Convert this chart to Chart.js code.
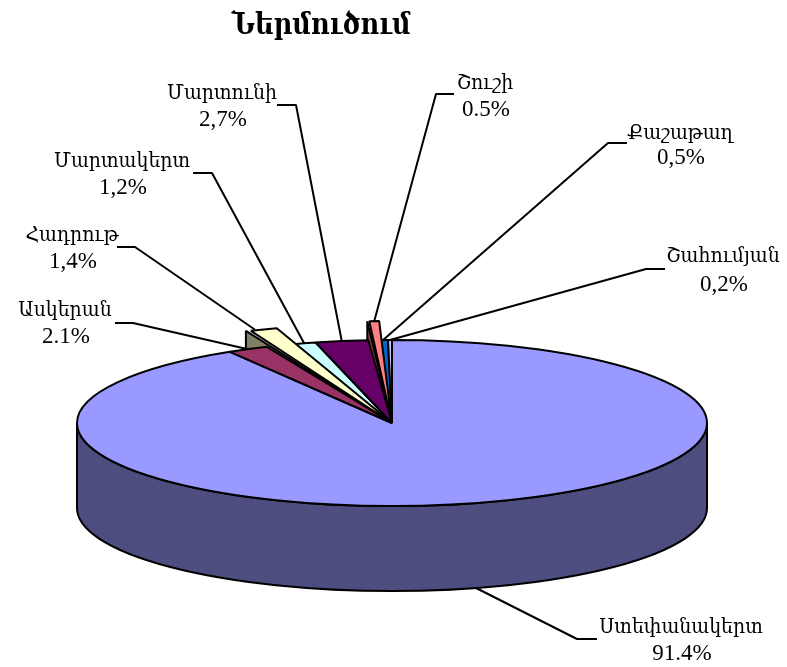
<!DOCTYPE html>
<html>
<head>
<meta charset="utf-8">
<style>
  html, body { margin: 0; padding: 0; background: #fff; }
  canvas { display: block; }
</style>
<script src="https://cdn.jsdelivr.net/npm/chart.js@4"></script>
</head>
<body>
<canvas id="importChart" width="787" height="667"></canvas>
<script>
const chartTitle = 'Ներմուծում';
const regions = ['Ստեփանակերտ', 'Ասկերան', 'Հադրութ', 'Մարտակերտ', 'Մարտունի', 'Շուշի', 'Քաշաթաղ', 'Շահումյան'];
const shares = [91.4, 2.1, 1.4, 1.2, 2.7, 0.5, 0.5, 0.2];
// written as in the source picture, comma or point
const shareLabels = ['91.4%', '2.1%', '1,4%', '1,2%', '2,7%', '0.5%', '0,5%', '0,2%'];
const topColors = ['#9999FF', '#993366', '#FFFFCC', '#CCFFFF', '#660066', '#FF8080', '#0066CC', '#CCCCFF'];
const sideColors = ['#4D4D80', '#4D1A33', '#808066', '#668080', '#330033', '#804040', '#003366', '#666680'];

// label layout: text centre x, baselines, leader elbow x/y, stub end x
const labelLayout = [
    { x: 681, y: 633, y2: 660, elbowX: 577, elbowY: 639, stubX: 597 },
    { x: 65, y: 316, y2: 343, elbowX: 133, elbowY: 323, stubX: 115 },
    { x: 72, y: 241, y2: 268, elbowX: 135, elbowY: 247, stubX: 117 },
    { x: 122, y: 167, y2: 194, elbowX: 212, elbowY: 173, stubX: 193 },
    { x: 222, y: 99, y2: 126, elbowX: 296, elbowY: 105, stubX: 277 },
    { x: 485, y: 89, y2: 116, elbowX: 436, elbowY: 94, stubX: 454 },
    { x: 680, y: 139, y2: 164, elbowX: 608, elbowY: 143, stubX: 627 },
    { x: 723, y: 262, y2: 291, elbowX: 646, elbowY: 269, stubX: 665 }
];

const squash = 83 / 315;
const depth = 85;
// slices whose rim sits above the pie top
const raised = {
    2: { dx: -16, dy: -16, wallDx: -5, wall: 19, leadDx: -9 },
    5: { dx: 1, dy: -19, wallDx: -2, wall: 19, leadDx: 0 }
};
const textFont = '"Liberation Serif", "DejaVu Serif", serif';
const armenianScale = 0.9;

function drawTop(ctx, arc, shift, fill) {
    const r = arc.outerRadius;
    ctx.beginPath();
    ctx.moveTo(arc.x, arc.y);
    ctx.ellipse(arc.x + shift.dx, arc.y + shift.dy, r, r * squash, 0, arc.startAngle, arc.endAngle);
    ctx.closePath();
    ctx.fillStyle = fill;
    ctx.fill();
    ctx.stroke();
}

function drawRaisedWall(ctx, arc, shift, fill) {
    const r = arc.outerRadius;
    const px = arc.x + shift.dx + shift.wallDx + Math.cos(arc.startAngle) * r;
    const py = arc.y + shift.dy + Math.sin(arc.startAngle) * r * squash;
    ctx.beginPath();
    ctx.moveTo(arc.x, arc.y);
    ctx.lineTo(px, py);
    ctx.lineTo(px, py + shift.wall);
    ctx.closePath();
    ctx.fillStyle = fill;
    ctx.fill();
    ctx.stroke();
}

function narrowText(ctx, text, x, y, scale) {
    ctx.save();
    ctx.translate(x, y);
    ctx.scale(scale, 1);
    ctx.fillText(text, 0, 0);
    ctx.restore();
}

const pie3d = {
    id: 'pie3d',
    beforeDatasetsDraw(chart) {
        const ctx = chart.ctx;
        const arcs = chart.getDatasetMeta(0).data;
        const main = arcs[0];
        const rx = main.outerRadius;
        const ry = rx * squash;
        const flat = { dx: 0, dy: 0 };

        ctx.save();
        ctx.strokeStyle = '#000';
        ctx.lineWidth = 2;
        ctx.lineJoin = 'bevel';

        // front wall
        ctx.beginPath();
        ctx.ellipse(main.x, main.y, rx, ry, 0, 0, Math.PI);
        ctx.ellipse(main.x, main.y + depth, rx, ry, 0, Math.PI, 0, true);
        ctx.closePath();
        ctx.fillStyle = sideColors[0];
        ctx.fill();
        ctx.stroke();

        // walls of the raised slices, then the tops
        arcs.forEach((arc, i) => {
            if (raised[i]) drawRaisedWall(ctx, arc, raised[i], sideColors[i]);
        });
        arcs.forEach((arc, i) => {
            if (!raised[i]) drawTop(ctx, arc, flat, arc.options.backgroundColor);
        });
        arcs.forEach((arc, i) => {
            if (raised[i]) drawTop(ctx, arc, raised[i], arc.options.backgroundColor);
        });

        // leader lines run from the middle of each slice rim
        arcs.forEach((arc, i) => {
            const mid = (arc.startAngle + arc.endAngle) / 2;
            const r = arc.outerRadius;
            const lift = raised[i];
            const px = arc.x + Math.cos(mid) * r + (lift ? lift.dx + lift.leadDx : 0);
            let py = arc.y + Math.sin(mid) * r * squash + (lift ? lift.dy : 0);
            if (Math.sin(mid) > 0) py += depth;
            const l = labelLayout[i];
            ctx.beginPath();
            ctx.moveTo(px, py);
            ctx.lineTo(l.elbowX, l.elbowY);
            ctx.lineTo(l.stubX, l.elbowY);
            ctx.stroke();
        });

        // labels and title
        ctx.fillStyle = '#000';
        ctx.textAlign = 'center';
        ctx.textBaseline = 'alphabetic';
        regions.forEach((name, i) => {
            const l = labelLayout[i];
            ctx.font = '21px ' + textFont;
            narrowText(ctx, name, l.x, l.y, armenianScale);
            ctx.font = '23px ' + textFont;
            ctx.fillText(shareLabels[i], l.x + 1, l.y2);
        });
        ctx.font = 'bold 29px ' + textFont;
        narrowText(ctx, chartTitle, 321, 34, 0.885);
        ctx.restore();
        return false;
    }
};

new Chart(document.getElementById('importChart').getContext('2d'), {
    type: 'pie',
    data: {
        labels: regions,
        datasets: [{
            data: shares,
            backgroundColor: topColors
        }]
    },
    options: {
        responsive: false,
        animation: false,
        radius: 315,
        layout: { padding: { top: 179, right: 3 } },
        plugins: {
            legend: { display: false },
            tooltip: { enabled: false }
        }
    },
    plugins: [pie3d]
});
</script>
</body>
</html>
